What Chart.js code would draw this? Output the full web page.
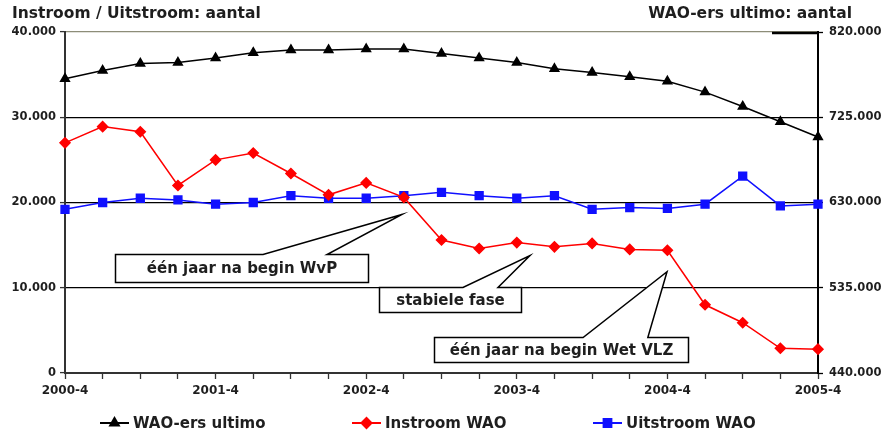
<!DOCTYPE html>
<html>
<head>
<meta charset="utf-8">
<script src="https://cdn.jsdelivr.net/npm/chart.js@4"></script>
<style>
  html, body { margin: 0; padding: 0; background: #fff; }
  #wrap { width: 884px; height: 433px; position: relative; }
</style>
</head>
<body>
<div id="wrap"><canvas id="c"></canvas></div>
<script>
// Kwartalen (eind van kwartaal)
const quarters = [
  '2000-4',
  '2001-1', '2001-2', '2001-3', '2001-4',
  '2002-1', '2002-2', '2002-3', '2002-4',
  '2003-1', '2003-2', '2003-3', '2003-4',
  '2004-1', '2004-2', '2004-3', '2004-4',
  '2005-1', '2005-2', '2005-3', '2005-4'
];

// WAO-ers ultimo (rechter as)
const waoUltimo = [768000, 777000, 785000, 786000, 791000, 797000, 800000, 800000, 801000, 801000,
                   796000, 791000, 786000, 779000, 775000, 770000, 765000, 753000, 737000, 720000, 703000];

// Instroom WAO (linker as)
const instroom = [27000, 28900, 28300, 22000, 25000, 25800, 23400, 20900, 22300, 20600,
                  15600, 14600, 15300, 14800, 15200, 14500, 14400, 8000, 5900, 2900, 2800];

// Uitstroom WAO (linker as)
const uitstroom = [19200, 20000, 20500, 20300, 19800, 20000, 20800, 20500, 20500, 20800,
                   21200, 20800, 20500, 20800, 19200, 19400, 19300, 19800, 23100, 19600, 19800];

// Asbereiken
const leftTicks = [0, 10000, 20000, 30000, 40000];
const rightTicks = [440000, 535000, 630000, 725000, 820000];

const seriesNames = ['WAO-ers ultimo', 'Instroom WAO', 'Uitstroom WAO'];
const titleLeft = 'Instroom / Uitstroom: aantal';
const titleRight = 'WAO-ers ultimo: aantal';

// Toelichtingen: tekst, kader (kwartaalindex links/rechts, waarde boven/onder),
// voet van de aanwijzer (kwartaalindex) en de punt (kwartaalindex, waarde)
const callouts = [
  { text: 'één jaar na begin WvP',     box: [1.33, 8.05, 14000, 10700], base: [5.26, 6.96],  tip: [8.95, 18600] },
  { text: 'stabiele fase',             box: [8.34, 12.11, 10100, 7180], base: [10.57, 11.5], tip: [12.35, 13770] },
  { text: 'één jaar na begin Wet VLZ', box: [9.80, 16.55, 4240, 1290],  base: [13.76, 15.48], tip: [15.99, 11880] }
];

const FONT = '"DejaVu Sans", Verdana, sans-serif';
const TEXT = '#1e1e1e';

function nl(v) {
  return String(Math.round(v)).replace(/\B(?=(\d{3})+(?!\d))/g, '.');
}

const titlesPlugin = {
  id: 'titles',
  afterDraw(chart) {
    const ctx = chart.ctx;
    const a = chart.chartArea;
    ctx.save();
    ctx.fillStyle = TEXT;
    ctx.font = 'bold 15.5px ' + FONT;
    ctx.textBaseline = 'alphabetic';
    ctx.textAlign = 'left';
    ctx.fillText(titleLeft, 12, 18);
    ctx.textAlign = 'right';
    ctx.fillText(titleRight, 852, 18);
    // korte zware lijn rechtsboven langs de bovenrand
    ctx.strokeStyle = '#000';
    ctx.lineWidth = 2.5;
    ctx.beginPath();
    ctx.moveTo(a.right - 46, a.top + 1);
    ctx.lineTo(a.right, a.top + 1);
    ctx.stroke();
    ctx.restore();
  }
};

const calloutPlugin = {
  id: 'callouts',
  afterDatasetsDraw(chart) {
    const ctx = chart.ctx;
    const xs = chart.scales.x, ys = chart.scales.y;
    ctx.save();
    callouts.forEach(c => {
      const l = Math.round(xs.getPixelForValue(c.box[0])) + 0.5;
      const r = Math.round(xs.getPixelForValue(c.box[1])) + 0.5;
      const t = Math.round(ys.getPixelForValue(c.box[2])) + 0.5;
      const b = Math.round(ys.getPixelForValue(c.box[3])) + 0.5;
      const b0 = xs.getPixelForValue(c.base[0]);
      const b1 = xs.getPixelForValue(c.base[1]);
      const tx = xs.getPixelForValue(c.tip[0]);
      const ty = ys.getPixelForValue(c.tip[1]);
      ctx.beginPath();
      ctx.moveTo(l, t);
      ctx.lineTo(b0, t);
      ctx.lineTo(tx, ty);
      ctx.lineTo(b1, t);
      ctx.lineTo(r, t);
      ctx.lineTo(r, b);
      ctx.lineTo(l, b);
      ctx.closePath();
      ctx.fillStyle = '#fff';
      ctx.fill();
      ctx.strokeStyle = '#000';
      ctx.lineWidth = 1.5;
      ctx.lineJoin = 'miter';
      ctx.stroke();
      ctx.fillStyle = TEXT;
      ctx.font = 'bold 15px ' + FONT;
      ctx.textAlign = 'center';
      ctx.textBaseline = 'middle';
      ctx.fillText(c.text, (l + r) / 2, (t + b) / 2 + 1);
    });
    ctx.restore();
  }
};

const legendPlugin = {
  id: 'lineLegend',
  afterDraw(chart) {
    const ctx = chart.ctx;
    const y = 423;
    const starts = [100, 352, 593];
    ctx.save();
    chart.data.datasets.forEach((ds, i) => {
      const x0 = starts[i];
      const x1 = x0 + 29;
      ctx.strokeStyle = ds.borderColor;
      ctx.lineWidth = 2;
      ctx.beginPath();
      ctx.moveTo(x0, y);
      ctx.lineTo(x1, y);
      ctx.stroke();
      ctx.fillStyle = ds.pointBackgroundColor;
      ctx.strokeStyle = ds.pointBorderColor;
      Chart.helpers.drawPoint(ctx, {
        pointStyle: ds.pointStyle,
        radius: ds.pointRadius,
        rotation: 0,
        borderWidth: 1
      }, (x0 + x1) / 2, y);
      ctx.fillStyle = TEXT;
      ctx.font = 'bold 15px ' + FONT;
      ctx.textAlign = 'left';
      ctx.textBaseline = 'middle';
      ctx.fillText(ds.label, x1 + 4, y + 1);
    });
    ctx.restore();
  }
};

new Chart(document.getElementById('c'), {
  type: 'line',
  data: {
    labels: quarters,
    datasets: [
      {
        label: seriesNames[0],
        data: waoUltimo,
        yAxisID: 'y2',
        borderColor: '#000',
        backgroundColor: '#000',
        pointBackgroundColor: '#000',
        pointBorderColor: '#000',
        pointStyle: 'triangle',
        pointRadius: 5,
        borderWidth: 1.5,
        tension: 0
      },
      {
        label: seriesNames[1],
        data: instroom,
        yAxisID: 'y',
        borderColor: '#ff0000',
        backgroundColor: '#ff0000',
        pointBackgroundColor: '#ff0000',
        pointBorderColor: '#ff0000',
        pointStyle: 'rectRot',
        pointRadius: 5,
        borderWidth: 1.5,
        tension: 0
      },
      {
        label: seriesNames[2],
        data: uitstroom,
        yAxisID: 'y',
        borderColor: '#1010ff',
        backgroundColor: '#1010ff',
        pointBackgroundColor: '#1010ff',
        pointBorderColor: '#1010ff',
        pointStyle: 'rect',
        pointRadius: 5.5,
        borderWidth: 1.5,
        tension: 0
      }
    ]
  },
  options: {
    responsive: true,
    maintainAspectRatio: false,
    animation: false,
    events: [],
    layout: { padding: { top: 32, left: 0, right: 0, bottom: 0 } },
    plugins: {
      legend: { display: false },
      tooltip: { enabled: false },
      title: { display: false }
    },
    scales: {
      x: {
        type: 'category',
        offset: false,
        afterFit(s) { s.height = 60; },
        grid: { drawOnChartArea: false, tickLength: 6, tickColor: '#333', tickWidth: 1.3 },
        border: { color: '#333', width: 2 },
        ticks: {
          autoSkip: false,
          maxRotation: 0,
          minRotation: 0,
          padding: 5,
          color: TEXT,
          font: { family: FONT, size: 12, weight: 'bold' },
          callback(v, i) { const q = quarters[i]; return q.endsWith('-4') ? q : ''; }
        }
      },
      y: {
        position: 'left',
        min: leftTicks[0],
        max: leftTicks[leftTicks.length - 1],
        afterFit(s) { s.width = 65; },
        afterBuildTicks(s) { s.ticks = leftTicks.map(v => ({ value: v })); },
        grid: {
          color: c => (c.tick && c.tick.value === 40000) ? '#8d8d78' : '#000',
          lineWidth: 1.2,
          tickLength: 5,
          tickColor: '#333',
          tickWidth: 1.3
        },
        border: { color: '#333', width: 2 },
        ticks: {
          padding: 4,
          color: TEXT,
          font: { family: FONT, size: 11.5, weight: 'bold' },
          callback: v => nl(v)
        }
      },
      y2: {
        position: 'right',
        min: rightTicks[0],
        max: rightTicks[rightTicks.length - 1],
        afterFit(s) { s.width = 66; },
        afterBuildTicks(s) { s.ticks = rightTicks.map(v => ({ value: v })); },
        grid: { drawOnChartArea: false, tickLength: 5, tickColor: '#000', tickWidth: 1.3 },
        border: { color: '#000', width: 2 },
        ticks: {
          padding: 6,
          color: TEXT,
          font: { family: FONT, size: 11.5, weight: 'bold' },
          callback: v => nl(v)
        }
      }
    }
  },
  plugins: [titlesPlugin, calloutPlugin, legendPlugin]
});
</script>
</body>
</html>
